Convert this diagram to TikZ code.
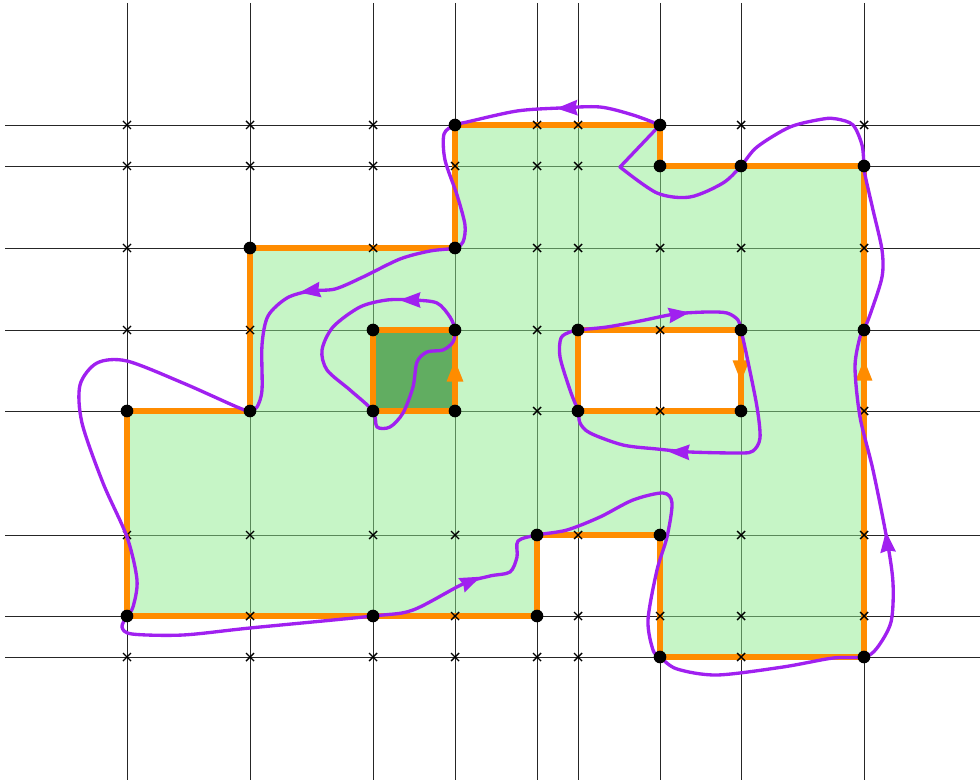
\documentclass[tikz,border=0pt]{standalone}
\usetikzlibrary{calc}
\definecolor{purp}{RGB}{160,32,240}
\definecolor{orng}{RGB}{255,140,0}
\definecolor{lgreen}{RGB}{141,235,141}
\definecolor{dgreen}{RGB}{97,173,97}
\tikzset{
  gridline/.style={line width=0.5pt, black!85},
  regionfill/.style={fill=lgreen, fill opacity=0.5},
  squarefill/.style={fill=dgreen},
  edge/.style={draw=orng, line width=3.2pt},
  crossmark/.style={line width=0.8pt, black},
  loopcurve/.style={draw=purp, line width=1.9pt, line join=round, line cap=round},
  pah/.pic={\fill[purp] (6pt,0) -- (-6pt,4.5pt) -- (-4.8pt,0) -- (-6pt,-4.5pt) -- cycle;},
  oah/.pic={\fill[orng] (6pt,0) -- (-6pt,4.8pt) -- (-6pt,-4.8pt) -- cycle;},
}
\begin{document}
\begin{tikzpicture}[x=0.02cm, y=-0.02cm]
\useasboundingbox (0,0) rectangle (980,780);
% grid
\foreach \x in {127,250,373,455,537,578,660,741,864}
  \draw[gridline] (\x,3) -- (\x,780);
\foreach \y in {125,166,248,330,411,535,616,657}
  \draw[gridline] (5,\y) -- (980,\y);
% vertices
\coordinate (t1) at (455,125);
\coordinate (t2) at (660,125);
\coordinate (t3) at (660,166);
\coordinate (t4) at (741,166);
\coordinate (t5) at (864,166);
\coordinate (l1) at (250,248);
\coordinate (l2) at (455,248);
\coordinate (s1) at (373,330);
\coordinate (s2) at (455,330);
\coordinate (h1) at (578,330);
\coordinate (h2) at (741,330);
\coordinate (r1) at (864,330);
\coordinate (b1) at (127,411);
\coordinate (b2) at (250,411);
\coordinate (s3) at (373,411);
\coordinate (s4) at (455,411);
\coordinate (h3) at (578,411);
\coordinate (h4) at (741,411);
\coordinate (m1) at (537,535);
\coordinate (m2) at (660,535);
\coordinate (f1) at (127,616);
\coordinate (f2) at (373,616);
\coordinate (f3) at (537,616);
\coordinate (g1) at (660,657);
\coordinate (g2) at (864,657);
% region
\fill[regionfill, even odd rule] (b1) -- (b2) -- (l1) -- (l2) -- (t1) -- (t2) -- (t3) -- (t4) -- (t5) -- (r1) -- (g2) -- (g1) -- (m2) -- (m1) -- (f3) -- (f2) -- (f1) -- cycle
  (h1) -- (h2) -- (h4) -- (h3) -- cycle;
\fill[squarefill] (s1) rectangle (s4);
% orange boundaries
\draw[edge] (b1) -- (b2) -- (l1) -- (l2) -- (t1) -- (t2) -- (t3) -- (t4) -- (t5) -- (r1) -- (g2) -- (g1) -- (m2) -- (m1) -- (f3) -- (f2) -- (f1) -- cycle;
\draw[edge] (h1) -- (h2) -- (h4) -- (h3) -- cycle;
\draw[edge] (s1) -- (s2) -- (s4) -- (s3) -- cycle;
\pic[rotate=90] at (455,371) {oah};
\pic[rotate=-90] at (741,371) {oah};
\pic[rotate=90] at (864,370) {oah};
% crosses
\foreach \x in {127,250,373,455,537,578,660,741,864}
  \foreach \y in {125,166,248,330,411,535,616,657}
    \draw[crossmark] (\x-4,\y-4) -- (\x+4,\y+4) (\x-4,\y+4) -- (\x+4,\y-4);
% purple curves
\draw[loopcurve] plot[smooth, tension=0.5] coordinates {
  (t2) (633,115) (600,107) (560,108) (517,111) (467,122) (t1)
  (444,134) (445,160) (457,195) (465,225) (463,242) (l2)
  (430,251) (400,259) (363,277) (335,289) (310,291) (287,298) (268,316) (262,345) (262,390) (257,407) (b2)
  (237,407) (183,383) (127,361) (97,363) (80,385) (82,423) (103,483) (127,537) (137,580) (133,607) (f1)
  (122,627) (132,634) (183,635) (250,628) (f2)
  (413,610) (463,584) (490,576) (510,572) (517,557) (518,541) (m1)
  (567,530) (600,517) (633,500) (663,493) (672,503) (667,537) (657,570) (648,620) (653,650) (g1)
  (677,669) (717,675) (783,667) (833,658) (g2)
  (877,648) (891,622) (893,583) (887,540) (873,470) (860,417) (855,367) (860,337) (r1)
  (871,312) (882,277) (882,250) (873,210) (865,175) (t5)
  (862,145) (853,125) (837,119) (823,119) (790,127) (757,147) (t4)
  (723,183) (690,197) (657,193) (620,167)} -- cycle;
\draw[loopcurve] plot[smooth cycle, tension=0.5] coordinates {
  (h1) (607,327) (640,321) (675,314) (707,312) (727,313) (738,320) (h2)
  (747,357) (757,407) (760,438) (753,451) (740,453) (690,452) (657,449) (623,445) (590,433) (580,423) (h3)
  (570,390) (560,357) (561,338) (570,332)};
\draw[loopcurve] plot[smooth cycle, tension=0.5] coordinates {
  (s2) (450,317) (437,303) (413,300) (387,300) (360,307) (333,327) (322,350) (327,370) (350,390) (s3)
  (377,427) (390,427) (403,413) (413,387) (417,362) (427,352) (443,350) (453,342)};
\pic[rotate=182] at (567,108) {pah};
\pic[rotate=188] at (310,291) {pah};
\pic[rotate=24] at (471,581) {pah};
\pic[rotate=96] at (887,542) {pah};
\pic[rotate=8] at (679,314) {pah};
\pic[rotate=178] at (679,452) {pah};
\pic[rotate=180] at (410,300) {pah};
% dots
\foreach \v in {t1,t2,t3,t4,t5,l1,l2,s1,s2,h1,h2,r1,b1,b2,s3,s4,h3,h4,m1,m2,f1,f2,f3,g1,g2}
  \fill (\v) circle (3.6pt);
\end{tikzpicture}
\end{document}
